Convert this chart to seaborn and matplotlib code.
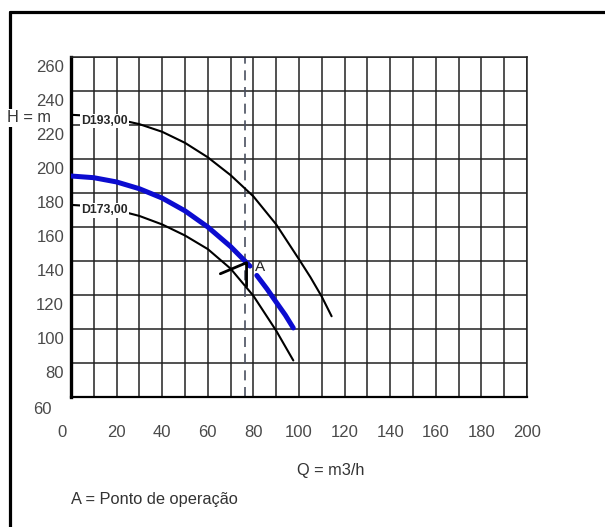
import seaborn as sns
import matplotlib.pyplot as plt
from matplotlib.lines import Line2D
from matplotlib.transforms import ScaledTranslation

# pump curves (Q in m3/h, H in m)
q_d193 = [0, 10, 20, 30, 40, 50, 60, 70, 80, 90, 100, 105, 110, 114.3]
h_d193 = [226, 225.3, 223.5, 220.5, 216, 209.5, 201, 190.5, 178, 161.5, 141, 130.5, 119, 107.5]

q_d173 = [0, 10, 20, 30, 40, 50, 60, 70, 80, 90, 97.5]
h_d173 = [173, 172.2, 170, 166.5, 161.5, 155, 147, 135.5, 119.5, 99, 81.5]

# operating impeller curve, split where the "A" label sits
q_op_a = [0, 10, 20, 30, 40, 50, 60, 70, 78.5]
h_op_a = [190, 189, 186.5, 182.5, 177, 169.5, 160, 148.5, 137]
q_op_b = [81.5, 86, 90, 94, 97.5]
h_op_b = [131.5, 123.5, 115.8, 108.2, 100.6]

# operating point marker
q_op = 76.5
mark_q = [65.5, 77, 77]
mark_h = [132.5, 139, 125]

x_ticks = list(range(0, 201, 20))
x_minor = list(range(10, 200, 20))
y_ticks = list(range(60, 261, 20))

sns.set_style('white')
plt.rcParams['font.family'] = ['Liberation Sans', 'DejaVu Sans']

fig = plt.figure(figsize=(6.05, 5.27), dpi=100)
ax = fig.add_axes([71 / 605, 1 - 397 / 527, 456 / 605, 340 / 527])

grid_c = '#222222'
lab_c = '#4a4a4a'
ax.set_xlim(0, 200)
ax.set_ylim(60, 260)
ax.set_xticks(x_ticks)
ax.set_xticks(x_minor, minor=True)
ax.set_yticks(y_ticks)
ax.grid(which='both', color=grid_c, lw=1.1)
ax.set_axisbelow(True)

for s in ax.spines.values():
    s.set_color(grid_c)
    s.set_linewidth(1.1)
ax.spines['left'].set_linewidth(2.4)
ax.spines['left'].set_color('black')
ax.spines['bottom'].set_linewidth(1.6)
ax.spines['bottom'].set_color('black')

ax.tick_params(axis='x', which='both', direction='out', length=9.5, width=1.1,
               color=grid_c, pad=11, labelsize=12, labelcolor=lab_c)
ax.tick_params(axis='y', which='major', direction='out', length=10, width=1.1,
               color=grid_c, pad=-5, labelsize=12, labelcolor=lab_c)
ax.tick_params(axis='y', which='minor', length=0)

# dashed operating flow line
ax.axvline(q_op, color='#4a5060', lw=1.2, dashes=(6, 4), zorder=1.5)

sns.lineplot(x=q_d193, y=h_d193, ax=ax, color='black', lw=1.5,
             sort=False, estimator=None, zorder=3)
sns.lineplot(x=q_d173, y=h_d173, ax=ax, color='black', lw=1.5,
             sort=False, estimator=None, zorder=3)
sns.lineplot(x=q_op_a, y=h_op_a, ax=ax, color='#0c0cd0', lw=3.6,
             sort=False, estimator=None, zorder=4)
sns.lineplot(x=q_op_b, y=h_op_b, ax=ax, color='#0c0cd0', lw=3.6,
             sort=False, estimator=None, zorder=4)
ax.plot(mark_q, mark_h, color='black', lw=2, zorder=5)

box = dict(facecolor='white', edgecolor='none', pad=1)
ax.text(4.6, 222.3, 'D193,00', fontsize=8.8, fontweight='bold', ha='left',
        va='center', bbox=box, zorder=6)
ax.text(4.6, 169.8, 'D173,00', fontsize=8.8, fontweight='bold', ha='left',
        va='center', bbox=box, zorder=6)
ax.text(82.8, 136.4, 'A', fontsize=11, ha='center', va='center', zorder=6)

ax.set_xlabel('')
ax.set_ylabel('')

# outer frame
fig.add_artist(Line2D([10 / 605, 10 / 605], [0, 1 - 12 / 527], color='black',
                      lw=2.3, transform=fig.transFigure))
fig.add_artist(Line2D([10 / 605, 1], [1 - 12 / 527, 1 - 12 / 527], color='black',
                      lw=2.3, transform=fig.transFigure))

fig.text(7 / 605, 1 - 118 / 527, 'H = m', fontsize=11.8, color='#333333',
         ha='left', va='center', bbox=dict(facecolor='white', edgecolor='none', pad=1),
         zorder=10)
fig.text(331 / 605, 1 - 470.5 / 527, 'Q = m3/h', fontsize=11.8, color='#333333',
         ha='center', va='center')
fig.text(71 / 605, 1 - 499.5 / 527, 'A = Ponto de operação', fontsize=11.8,
         color='#333333', ha='left', va='center')

# label offsets as in the original drawing
xl = ax.get_xticklabels()
xl[0].set_transform(xl[0].get_transform() + ScaledTranslation(-0.09, 0, fig.dpi_scale_trans))
yl = ax.get_yticklabels()
for lbl in yl:
    lbl.set_transform(lbl.get_transform() + ScaledTranslation(0, -0.09, fig.dpi_scale_trans))
yl[0].set_transform(yl[0].get_transform() + ScaledTranslation(-0.12, -0.02, fig.dpi_scale_trans))

fig.savefig('out.png', dpi=100)
